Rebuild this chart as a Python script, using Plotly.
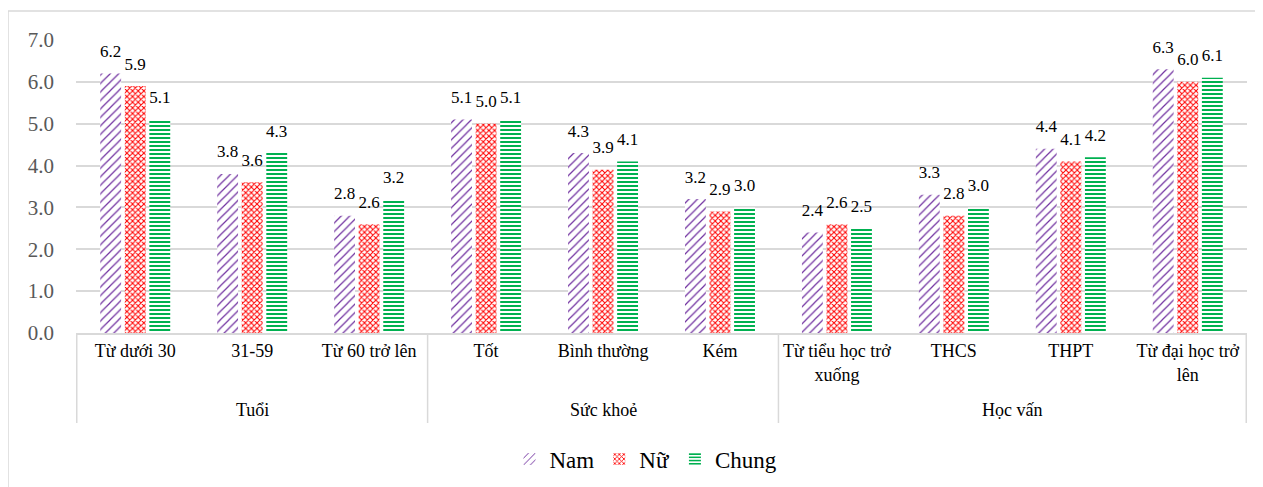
import plotly.graph_objects as go

# ---- data ----
categories = ["Từ dưới 30", "31-59", "Từ 60 trở lên",
              "Tốt", "Bình thường", "Kém",
              "Từ tiểu học trở<br>xuống", "THCS", "THPT", "Từ đại học trở<br>lên"]
groups = ["Tuổi", "Sức khoẻ", "Học vấn"]
group_sizes = [3, 3, 4]
nam = [6.2, 3.8, 2.8, 5.1, 4.3, 3.2, 2.4, 3.3, 4.4, 6.3]
nu = [5.9, 3.6, 2.6, 5.0, 3.9, 2.9, 2.6, 2.8, 4.1, 6.0]
chung = [5.1, 4.3, 3.2, 5.1, 4.1, 3.0, 2.5, 3.0, 4.2, 6.1]
series_names = ["Nam", "Nữ", "Chung"]
y_ticks = [0, 1, 2, 3, 4, 5, 6, 7]

FONT = "Liberation Serif, Times New Roman, serif"
OFF = 8  # default page body margin
W, H = 1263 - OFF, 487 - OFF
# plot area in screen pixels: x 76..1247, y 40..333
PX0, PX1, PY0, PY1 = 76, 1247, 40, 333
L, R, T, B = PX0 - OFF, W - (PX1 - OFF), PY0 - OFF, H - (PY1 - OFF)
PW, PH = PX1 - PX0, PY1 - PY0
BARGAP = 0.37


def px_to_paper_x(px):
    return (px - PX0) / PW


def px_to_paper_y(py):
    return (PY1 - py) / PH


styles = [
    dict(shape="/", fg="#7030A0", size=6, solidity=0.2),
    dict(shape="x", fg="#FF0000", size=4, solidity=0.45),
    dict(shape="-", fg="#00B050", size=4, solidity=0.5),
]

fig = go.Figure()
for name, vals, st in zip(series_names, [nam, nu, chung], styles):
    fig.add_trace(go.Bar(
        name=name, x=categories, y=vals, offsetgroup=name,
        marker=dict(color="white", line=dict(width=0),
                    pattern=dict(shape=st["shape"], fgcolor=st["fg"], bgcolor="white",
                                 fgopacity=1, size=st["size"], solidity=st["solidity"],
                                 fillmode="replace")),
        hoverinfo="x+y",
    ))
# data labels: text-only scatter traces grouped like the bars
for name, vals in zip(series_names, [nam, nu, chung]):
    fig.add_trace(go.Scatter(
        x=categories, y=vals, mode="markers+text", offsetgroup=name,
        text=[f"{v:.1f}" for v in vals], textposition="top center",
        marker=dict(size=18, color="rgba(0,0,0,0)"),
        textfont=dict(family=FONT, size=17, color="black"),
        showlegend=False, hoverinfo="skip", cliponaxis=False,
    ))

shapes = []
bounds = [-0.5]
for s in group_sizes:
    bounds.append(bounds[-1] + s)
for b in bounds:
    shapes.append(dict(type="line", xref="x", yref="paper", x0=b, x1=b,
                       y0=0, y1=px_to_paper_y(423), line=dict(color="#d9d9d9", width=1.5)))
shapes.append(dict(type="rect", xref="paper", yref="paper",
                   x0=px_to_paper_x(8), x1=px_to_paper_x(1275),
                   y0=px_to_paper_y(500), y1=px_to_paper_y(11),
                   line=dict(color="#d9d9d9", width=1.5), fillcolor="rgba(0,0,0,0)", layer="below"))

annotations = []
for i, g in enumerate(groups):
    center = (bounds[i] + bounds[i + 1]) / 2
    annotations.append(dict(text=g, xref="x", yref="paper", x=center, y=px_to_paper_y(410),
                            xanchor="center", yanchor="middle", showarrow=False,
                            font=dict(family=FONT, size=18, color="black")))

fig.update_layout(
    width=W, height=H,
    margin=dict(l=L, r=R, t=T, b=B, autoexpand=False),
    paper_bgcolor="white", plot_bgcolor="white",
    barmode="group", bargap=BARGAP, bargroupgap=0.15,
    scattermode="group", scattergap=BARGAP,
    font=dict(family=FONT, color="black"),
    shapes=shapes, annotations=annotations,
    legend=dict(orientation="h", x=px_to_paper_x(646), xanchor="center",
                y=px_to_paper_y(459), yanchor="middle",
                font=dict(family=FONT, size=23, color="black"), itemwidth=30),
    xaxis=dict(type="category", showgrid=False, showline=True, linecolor="#d9d9d9", linewidth=1.5,
               ticks="", tickangle=0, ticklabelstandoff=1, automargin=False,
               tickfont=dict(family=FONT, size=18, color="black")),
    yaxis=dict(range=[0, 7], tickvals=y_ticks, tickformat=".1f", showgrid=True,
               gridcolor="#d9d9d9", gridwidth=1.5, zeroline=False, showline=False,
               ticks="", ticklabelstandoff=21, automargin=False,
               tickfont=dict(family=FONT, size=21, color="#595959")),
)

fig.write_html("out.html")
